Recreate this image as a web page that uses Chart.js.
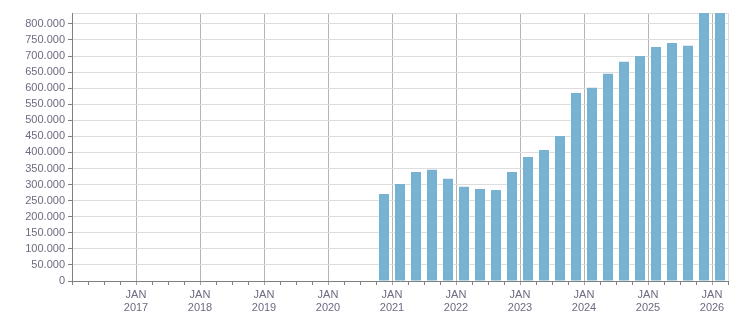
<!DOCTYPE html>
<html>
<head>
<meta charset="utf-8">
<script src="https://cdn.jsdelivr.net/npm/chart.js@4/dist/chart.umd.min.js"></script>
<style>
  body { margin: 0; background: #fff; }
  #wrap { width: 751px; height: 313px; }
</style>
</head>
<body>
<div id="wrap"><canvas id="chart"></canvas></div>
<script>
// quarters shown as bars (x axis starts JAN 2016)
const quarters = [
  'Q4 2020',
  'Q1 2021', 'Q2 2021', 'Q3 2021', 'Q4 2021',
  'Q1 2022', 'Q2 2022', 'Q3 2022', 'Q4 2022',
  'Q1 2023', 'Q2 2023', 'Q3 2023', 'Q4 2023',
  'Q1 2024', 'Q2 2024', 'Q3 2024', 'Q4 2024',
  'Q1 2025', 'Q2 2025', 'Q3 2025', 'Q4 2025',
  'Q1 2026'
];
const values = [
  271000,
  302000, 339000, 346000, 318000,
  293000, 286000, 283000, 339000,
  386000, 408000, 451000, 585000,
  601000, 645000, 682000, 700000,
  728000, 741000, 732000, 860000,
  875000
];
const startYear = 2016;
const monthLabel = 'JAN';
const yMax = 834000;
const yStep = 50000;
const xMaxQuarter = 41; // APR 2026

const textColor = '#6e6a82';
const axisColor = '#808080';

function quarterToX(q) {
  const parts = q.split(' ');
  const n = parseInt(parts[0].slice(1));
  const year = parseInt(parts[1]);
  return (year - startYear) * 4 + (n - 1) + 0.5;
}

function formatThousands(v) {
  return String(v).replace(/\B(?=(\d{3})+(?!\d))/g, '.');
}

const points = quarters.map((q, i) => ({ x: quarterToX(q), y: values[i] }));

const ctx = document.getElementById('chart').getContext('2d');
new Chart(ctx, {
  type: 'bar',
  data: {
    datasets: [{
      data: points,
      backgroundColor: '#77b2d3',
      borderWidth: 0,
      barPercentage: 1,
      categoryPercentage: 0.625
    }]
  },
  options: {
    responsive: true,
    maintainAspectRatio: false,
    animation: false,
    layout: { padding: { top: 13, right: 23, left: 0, bottom: 0 } },
    plugins: { legend: { display: false }, tooltip: { enabled: false } },
    scales: {
      x: {
        type: 'linear',
        min: 0,
        max: xMaxQuarter,
        offset: false,
        afterFit: scale => { scale.height = 32; },
        border: { color: axisColor, width: 1 },
        grid: {
          offset: false,
          color: c => {
            const v = c.tick ? c.tick.value : -1;
            if (v === xMaxQuarter) return '#dddddd';
            if (v > 0 && v % 4 === 0) return '#b4b4b4';
            return 'transparent';
          },
          tickColor: c => {
            const v = c.tick ? c.tick.value : -1;
            if (v > 0 && v % 4 === 0) return '#a0a0a0';
            return axisColor;
          },
          tickLength: 4
        },
        ticks: {
          stepSize: 1,
          autoSkip: false,
          maxRotation: 0,
          padding: 4,
          color: textColor,
          font: { family: 'Liberation Sans', size: 11, lineHeight: 1.15 },
          callback: v => (v > 0 && v < xMaxQuarter && v % 4 === 0)
            ? [monthLabel, String(startYear + v / 4)] : ''
        }
      },
      y: {
        min: 0,
        max: yMax,
        afterFit: scale => { scale.width = 72; },
        afterBuildTicks: scale => {
          const t = [];
          for (let v = 0; v <= yMax; v += yStep) t.push({ value: v });
          t.push({ value: yMax });
          scale.ticks = t;
        },
        border: { color: axisColor, width: 1 },
        grid: {
          color: '#dddddd',
          tickColor: c => (c.tick && c.tick.value % yStep === 0) ? axisColor : 'transparent',
          tickLength: 4
        },
        ticks: {
          autoSkip: false,
          padding: 3,
          color: textColor,
          font: { family: 'Liberation Sans', size: 11 },
          callback: v => v % yStep === 0 ? formatThousands(v) : ''
        }
      }
    }
  }
});
</script>
</body>
</html>
